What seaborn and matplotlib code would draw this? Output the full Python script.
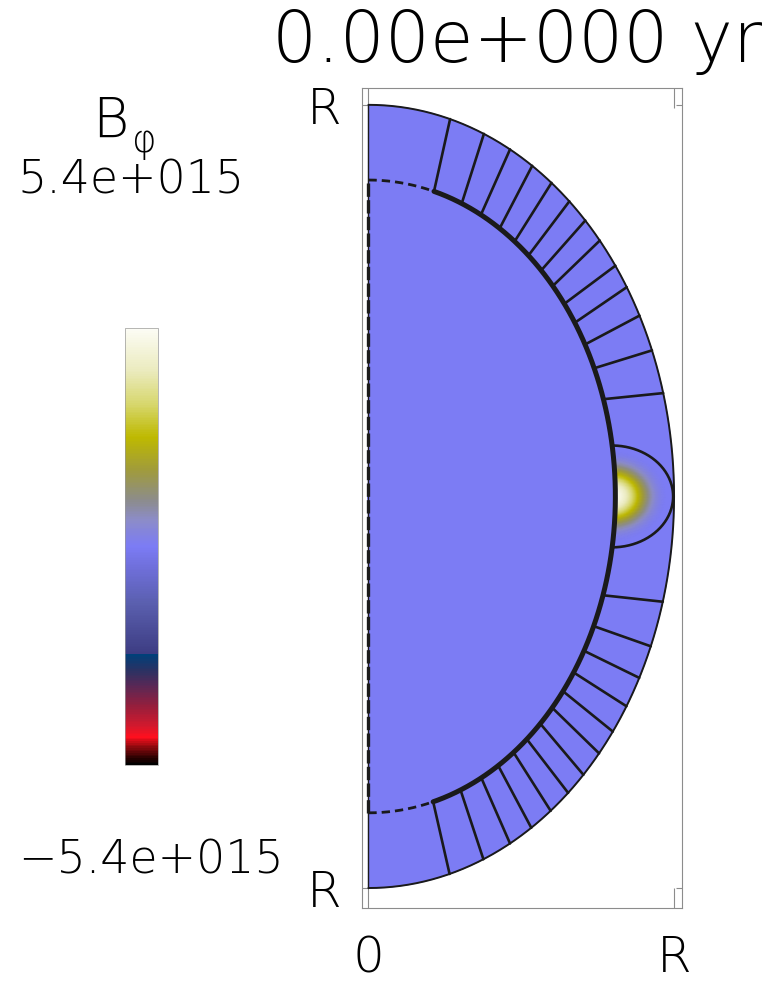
import numpy as np
import seaborn as sns
import matplotlib.pyplot as plt
from matplotlib.colors import LinearSegmentedColormap

sns.set_theme(style="white")
plt.rcParams['font.family'] = ['DejaVu Sans']
plt.rcParams['font.weight'] = 'light'
plt.rcParams['text.color'] = 'black'
plt.rcParams['xtick.labelcolor'] = 'black'
plt.rcParams['ytick.labelcolor'] = 'black'

# Values
title = "0.00e+000 yr"
b_max = 5.4e15
b_min = -5.4e15
r_core = 0.808            # crust/core boundary (units of R)
r_star = 1.0
# field line angles (deg from the north pole): footpoint at r_core, end at R
theta_in = [15.4, 22.2, 27.1, 32.1, 36.3, 40.4, 44.4, 48.3, 52.5, 56.7, 61.3, 66.1, 72.1,
            108.2, 114.2, 119.2, 123.8, 128.0, 131.9, 135.9, 140.1, 144.0, 148.3, 152.8, 158.1, 164.8]
theta_out = [15.5, 22.2, 27.6, 32.4, 36.8, 41.1, 45.2, 49.2, 53.9, 57.7, 62.5, 68.1, 74.7,
             105.6, 112.5, 117.6, 122.4, 126.9, 131.0, 135.3, 139.2, 143.4, 147.8, 152.4, 157.9, 164.6]
# closed equatorial loop holding the toroidal field
loop_center = 0.797
loop_width = 0.2
loop_height = 0.13

# colour table of the original (position, rgb)
cmap_stops = [
    (0.000, (0, 0, 0)), (0.011, (30, 0, 0)), (0.042, (150, 10, 15)),
    (0.062, (255, 15, 30)), (0.088, (210, 25, 45)), (0.133, (150, 30, 60)),
    (0.179, (90, 40, 85)), (0.217, (40, 50, 100)), (0.252, (0, 64, 122)),
    (0.2525, (60, 60, 130)), (0.37, (90, 95, 175)), (0.446, (110, 110, 215)),
    (0.500, (123, 123, 245)), (0.561, (140, 140, 200)), (0.606, (140, 140, 140)),
    (0.675, (160, 155, 60)), (0.751, (190, 185, 0)), (0.828, (215, 215, 110)),
    (0.904, (235, 235, 190)), (1.000, (252, 252, 245)),
]
cmap = LinearSegmentedColormap.from_list(
    "bphi", [(p, tuple(c / 255 for c in rgb)) for p, rgb in cmap_stops])

# toroidal field map on the meridional half plane
r = np.linspace(0, r_star, 300)
th = np.radians(np.linspace(0, 180, 721))
R, TH = np.meshgrid(r, th)
X = R * np.sin(TH)
Y = R * np.cos(TH)
s2 = ((X - loop_center) / loop_width) ** 2 + (Y / loop_height) ** 2
bphi = np.where((s2 < 1) & (R >= r_core), b_max * (1 - s2) ** 3.5, 0.0)

fig = plt.figure(figsize=(7.75, 9.82), dpi=100)
ax = fig.add_axes([362 / 775, 1 - 908 / 982, 320 / 775, 820 / 982])
cax = fig.add_axes([125 / 775, 1 - 765 / 982, 33 / 775, 437 / 982])

mesh = ax.pcolormesh(X, Y, bphi, cmap=cmap, vmin=b_min, vmax=b_max,
                     shading="gouraud", rasterized=True)

# star surface
t = np.radians(np.linspace(0, 180, 361))
ax.plot(r_star * np.sin(t), r_star * np.cos(t), color="k", lw=1.4)
ax.plot([0, 0], [-r_star, r_star], color="k", lw=1.0)

# core boundary: dashed circle and axis
ax.plot(r_core * np.sin(t), r_core * np.cos(t), color="k", lw=2,
        linestyle=(0, (3, 1.8)))
ax.plot([0, 0], [-r_core, r_core], color="k", lw=2.4, linestyle=(0, (4, 1)))

# crustal field lines
tt = np.radians(np.linspace(theta_in[0], theta_in[-1], 300))
ax.plot(r_core * np.sin(tt), r_core * np.cos(tt), color="k", lw=3.6,
        solid_capstyle="round")
for a, b in zip(theta_in, theta_out):
    a, b = np.radians(a), np.radians(b)
    ax.plot([r_core * np.sin(a), r_star * np.sin(b)],
            [r_core * np.cos(a), r_star * np.cos(b)], color="k", lw=1.9)

u = np.radians(np.linspace(-90, 90, 181))
ax.plot(loop_center + loop_width * np.cos(u), loop_height * np.sin(u),
        color="k", lw=1.9)

ax.set_xlim(-0.021, 1.026)
ax.set_ylim(-1.051, 1.043)
ax.set_xticks([0, 1], labels=["0", "R"])
ax.set_yticks([-1, 1], labels=["R", "R"])
ax.tick_params(axis="x", direction="in", length=14.4, width=0.8, color="0.55",
               top=True, bottom=True, labelsize=36, pad=19)
ax.tick_params(axis="y", direction="in", length=4.3, width=0.8, color="0.55",
               left=True, right=True, labelsize=36, pad=15)
for sp in ax.spines.values():
    sp.set_color("0.55")
    sp.set_linewidth(0.8)

cb = fig.colorbar(mesh, cax=cax)
cb.set_ticks([])
cb.outline.set_edgecolor("0.6")
cb.outline.set_linewidth(0.5)

fig.text(272 / 775, 1 - 62 / 982, title, fontsize=51, ha="left", va="baseline")
fig.text(92 / 775, 1 - 137 / 982, "B", fontsize=40, ha="left", va="baseline")
fig.text(132 / 775, 1 - 152 / 982, "\u03c6", fontsize=27, ha="left", va="baseline")
fig.text(17 / 775, 1 - 193 / 982, "5.4e+015", fontsize=33, ha="left", va="baseline")
fig.text(18 / 775, 1 - 873 / 982, "\u22125.4e+015", fontsize=33, ha="left", va="baseline")

fig.savefig("out.png", dpi=100)
